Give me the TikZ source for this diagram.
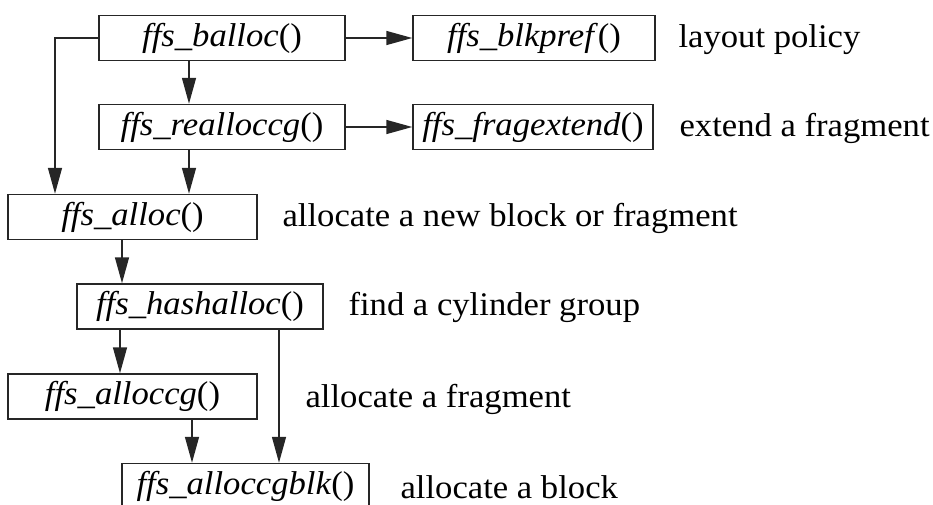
\documentclass[tikz,border=0pt]{standalone}
\usepackage{fontspec}
\setmainfont{Liberation Serif}[FakeStretch=1.05]
\usepackage{tikz}
\usetikzlibrary{arrows.meta, positioning}

\newcommand{\fn}[1]{\textit{#1}()}

\tikzset{
  fnbox/.style={draw=black!85, line width=1.5pt, minimum height=45pt, inner sep=0pt},
  note/.style={anchor=base west},
  call/.style={line width=1.5pt, draw=black!85, -{Triangle[length=26pt, width=14pt]}},
  every node/.style={font=\fontsize{33}{38}\selectfont}
}

\begin{document}
\begin{tikzpicture}[x=1pt, y=-1pt]
    \useasboundingbox (0,0) rectangle (933,504);
    % functions
    \node[fnbox, minimum width=246pt] (balloc) at (222,38) {\fn{ffs\_balloc}};
    \node[fnbox, minimum width=242pt] (blkpref) at (534,38) {\fn{ffs\_blkpref}};
    \node[fnbox, minimum width=246pt] (realloccg) at (222,127) {\fn{ffs\_realloccg}};
    \node[fnbox, minimum width=240pt] (fragextend) at (533,127) {\fn{ffs\_fragextend}};
    \node[fnbox, minimum width=249pt] (alloc) at (132.5,217) {\fn{ffs\_alloc}};
    \node[fnbox, minimum width=246pt] (hashalloc) at (200,306.5) {\fn{ffs\_hashalloc}};
    \node[fnbox, minimum width=249pt] (alloccg) at (132.5,396.5) {\fn{ffs\_alloccg}};
    \node[fnbox, minimum width=247pt] (alloccgblk) at (245.5,486) {\fn{ffs\_alloccgblk}};
    % comments
    \node[note] (n1) at (675,47) {layout policy};
    \node[note] (n2) at (676,136) {extend a fragment};
    \node[note] (n3) at (279,226) {allocate a new block or fragment};
    \node[note] (n4) at (345,315) {find a cylinder group};
    \node[note] (n5) at (302,407) {allocate a fragment};
    \node[note] (n6) at (397,498) {allocate a block};
    % calls
    \coordinate (bend) at (55,38);
    \draw[call] (balloc.west) -- (bend) -- (bend |- alloc.north);
    \draw[call] (balloc.east) -- (blkpref.west);
    \draw[call] (realloccg.east) -- (fragextend.west);
    \draw[call] ([xshift=-33pt]balloc.south) -- ([xshift=-33pt]realloccg.north);
    \draw[call] ([xshift=-33pt]realloccg.south) -- ([xshift=56.5pt]alloc.north);
    \draw[call] ([xshift=-10.5pt]alloc.south) -- ([xshift=-78pt]hashalloc.north);
    \draw[call] ([xshift=-80pt]hashalloc.south) -- ([xshift=-12.5pt]alloccg.north);
    \draw[call] ([xshift=79pt]hashalloc.south) -- ([xshift=33.5pt]alloccgblk.north);
    \draw[call] ([xshift=59.5pt]alloccg.south) -- ([xshift=-53.5pt]alloccgblk.north);
\end{tikzpicture}
\end{document}
